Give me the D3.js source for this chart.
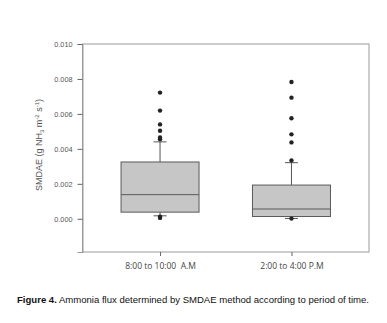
<!DOCTYPE html>
<html>
<head>
<meta charset="utf-8">
<script src="https://cdn.jsdelivr.net/npm/d3@7"></script>
<style>
  body { margin: 0; background: #fff; }
  svg { display: block; }
</style>
</head>
<body>
<div id="chart"></div>
<script>
// chart data
const categories = ["8:00 to 10:00  A.M", "2:00 to 4:00 P.M"];
const whiskerLow = [0.00017, 0.00002];
const q1 = [0.00038, 0.00013];
const median = [0.00138, 0.00056];
const q3 = [0.00325, 0.00193];
const whiskerHigh = [0.0044, 0.00321];
const outliers = [
  [0.00722, 0.00619, 0.00540, 0.00504, 0.00465, 0.00455, 0.00012, 0.00005],
  [0.00783, 0.00693, 0.00575, 0.00483, 0.00437, 0.00334, 0.00001]
];
const yTicks = [0, 0.002, 0.004, 0.006, 0.008, 0.010];

const w = 387, h = 323;
const marginTop = 44;
const marginRight = 18;
const marginBottom = 71;
const marginLeft = 82.5;

const svg = d3.select("#chart")
  .append("svg")
  .attr("width", w)
  .attr("height", h);

const x = d3.scalePoint()
  .domain(categories)
  .range([marginLeft, w - marginRight])
  .padding(0.59);

const y = d3.scaleLinear()
  .domain([-0.0019, 0.010])
  .range([h - marginBottom, marginTop]);

const data = categories.map((c, i) => ({
  cat: c, lo: whiskerLow[i], q1: q1[i], med: median[i], q3: q3[i], hi: whiskerHigh[i], out: outliers[i]
}));

// frame (top + right)
svg.append("rect")
  .attr("x", marginLeft)
  .attr("y", marginTop)
  .attr("width", w - marginRight - marginLeft)
  .attr("height", h - marginBottom - marginTop)
  .attr("fill", "none")
  .attr("stroke", "#9a9a9a")
  .attr("stroke-width", 1);

// y axis
svg.append("g")
  .attr("transform", `translate(${marginLeft},0)`)
  .call(d3.axisLeft(y).tickValues(yTicks).tickFormat(d3.format(".3f")).tickSize(5).tickPadding(5))
  .call(g => g.select(".domain").attr("stroke", "#9a9a9a"))
  .call(g => g.selectAll(".tick line").attr("stroke", "#666"))
  .call(g => g.selectAll(".tick text")
    .attr("fill", "#555")
    .style("font-family", "Liberation Sans, Arial, sans-serif")
    .style("font-size", "7.3px"));

// x axis
svg.append("g")
  .attr("transform", `translate(0,${h - marginBottom})`)
  .call(d3.axisBottom(x).tickSize(4).tickPadding(7))
  .call(g => g.select(".domain").remove())
  .call(g => g.selectAll(".tick line").attr("stroke", "#666"))
  .call(g => g.selectAll(".tick text")
    .attr("fill", "#444")
    .style("white-space", "pre")
    .style("font-family", "Open Sans, sans-serif")
    .style("font-size", "8.5px"));

// y label
svg.append("text")
  .attr("transform", `translate(42,${145}) rotate(-90)`)
  .attr("text-anchor", "middle")
  .attr("fill", "#555")
  .style("font-family", "Liberation Sans, Arial, sans-serif")
  .style("font-size", "9px")
  .call(t => {
    t.append("tspan").text("SMDAE (g NH");
    t.append("tspan").attr("dy", 2).style("font-size", "6px").text("3");
    t.append("tspan").attr("dy", -2).text(" m");
    t.append("tspan").attr("dy", -3.5).style("font-size", "6px").text("-2");
    t.append("tspan").attr("dy", 3.5).text(" s");
    t.append("tspan").attr("dy", -3.5).style("font-size", "6px").text("-1");
    t.append("tspan").attr("dy", 3.5).text(")");
  });

const boxW = 78, capW = 13;
const boxes = svg.append("g").selectAll("g").data(data).join("g");

boxes.append("line")
  .attr("x1", d => x(d.cat)).attr("x2", d => x(d.cat))
  .attr("y1", d => y(d.hi)).attr("y2", d => y(d.lo))
  .attr("stroke", "#555");

boxes.append("line")
  .attr("x1", d => x(d.cat) - capW / 2).attr("x2", d => x(d.cat) + capW / 2)
  .attr("y1", d => y(d.hi)).attr("y2", d => y(d.hi))
  .attr("stroke", "#555");

boxes.append("line")
  .attr("x1", d => x(d.cat) - capW / 2).attr("x2", d => x(d.cat) + capW / 2)
  .attr("y1", d => y(d.lo)).attr("y2", d => y(d.lo))
  .attr("stroke", "#555");

boxes.append("rect")
  .attr("x", d => x(d.cat) - boxW / 2)
  .attr("width", boxW)
  .attr("y", d => y(d.q3))
  .attr("height", d => y(d.q1) - y(d.q3))
  .attr("fill", "#c6c6c6")
  .attr("stroke", "#5a5a5a");

boxes.append("line")
  .attr("x1", d => x(d.cat) - boxW / 2).attr("x2", d => x(d.cat) + boxW / 2)
  .attr("y1", d => y(d.med)).attr("y2", d => y(d.med))
  .attr("stroke", "#5a5a5a");

boxes.selectAll("circle")
  .data(d => d.out.map(v => ({cat: d.cat, v})))
  .join("circle")
  .attr("cx", d => x(d.cat))
  .attr("cy", d => y(d.v))
  .attr("r", 2.2)
  .attr("fill", "#222");

// caption
svg.append("text")
  .attr("x", 17)
  .attr("y", 303)
  .attr("textLength", 352)
  .attr("lengthAdjust", "spacingAndGlyphs")
  .attr("fill", "#111")
  .style("font-family", "Liberation Sans, Arial, sans-serif")
  .style("font-size", "9.5px")
  .call(t => {
    t.append("tspan").style("font-weight", "bold").text("Figure 4.");
    t.append("tspan").text(" Ammonia flux determined by SMDAE method according to period of time.");
  });
</script>
</body>
</html>
